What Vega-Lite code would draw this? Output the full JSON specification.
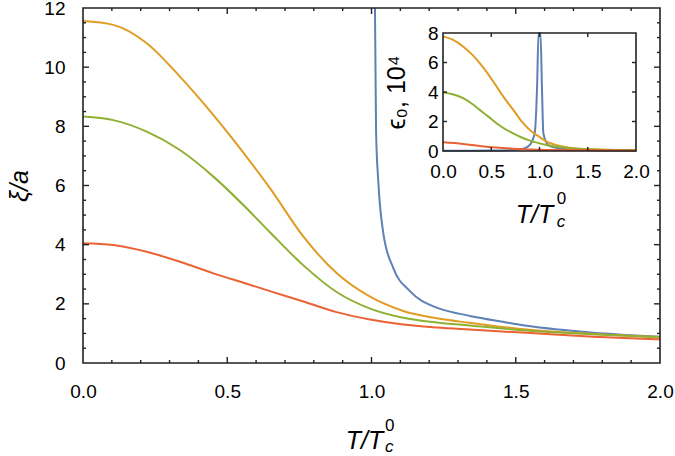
{
  "$schema": "https://vega.github.io/schema/vega-lite/v6.json",
  "width": 577,
  "height": 355,
  "autosize": {"type": "none"},
  "padding": {"left": 83, "top": 8, "right": 15, "bottom": 93},
  "background": "white",
  "config": {
    "view": {"stroke": null},
    "font": "Liberation Sans",
    "axis": {"labelFont": "Liberation Sans", "titleFont": "Liberation Sans", "labelColor": "black", "titleColor": "black", "grid": false, "domain": false, "ticks": false, "tickSize": 0, "labelFontSize": 19, "titleFontSize": 25, "titleFontWeight": "normal", "zindex": 1}
  },
  "datasets": {
    "main": [
      {"series": "curve 1", "T": 1.009, "xi": 14.0},
      {"series": "curve 1", "T": 1.012, "xi": 12.0},
      {"series": "curve 1", "T": 1.014, "xi": 9.8},
      {"series": "curve 1", "T": 1.016, "xi": 7.77},
      {"series": "curve 1", "T": 1.024, "xi": 6.07},
      {"series": "curve 1", "T": 1.041, "xi": 4.38},
      {"series": "curve 1", "T": 1.076, "xi": 3.2},
      {"series": "curve 1", "T": 1.134, "xi": 2.42},
      {"series": "curve 1", "T": 1.226, "xi": 1.87},
      {"series": "curve 1", "T": 1.307, "xi": 1.66},
      {"series": "curve 1", "T": 1.341, "xi": 1.59},
      {"series": "curve 1", "T": 1.45, "xi": 1.4},
      {"series": "curve 1", "T": 1.538, "xi": 1.26},
      {"series": "curve 1", "T": 1.65, "xi": 1.13},
      {"series": "curve 1", "T": 1.768, "xi": 1.02},
      {"series": "curve 1", "T": 1.88, "xi": 0.95},
      {"series": "curve 1", "T": 2.0, "xi": 0.89},
      {"series": "curve 2", "T": 0.0, "xi": 11.56},
      {"series": "curve 2", "T": 0.105, "xi": 11.43},
      {"series": "curve 2", "T": 0.221, "xi": 10.81},
      {"series": "curve 2", "T": 0.336, "xi": 9.68},
      {"series": "curve 2", "T": 0.452, "xi": 8.38},
      {"series": "curve 2", "T": 0.567, "xi": 6.97},
      {"series": "curve 2", "T": 0.648, "xi": 5.91},
      {"series": "curve 2", "T": 0.764, "xi": 4.27},
      {"series": "curve 2", "T": 0.879, "xi": 3.04},
      {"series": "curve 2", "T": 0.995, "xi": 2.24},
      {"series": "curve 2", "T": 1.11, "xi": 1.76},
      {"series": "curve 2", "T": 1.226, "xi": 1.51},
      {"series": "curve 2", "T": 1.34, "xi": 1.36},
      {"series": "curve 2", "T": 1.538, "xi": 1.13},
      {"series": "curve 2", "T": 1.768, "xi": 0.98},
      {"series": "curve 2", "T": 2.0, "xi": 0.88},
      {"series": "curve 3", "T": 0.0, "xi": 8.33},
      {"series": "curve 3", "T": 0.105, "xi": 8.21},
      {"series": "curve 3", "T": 0.221, "xi": 7.82},
      {"series": "curve 3", "T": 0.336, "xi": 7.2},
      {"series": "curve 3", "T": 0.452, "xi": 6.3},
      {"series": "curve 3", "T": 0.567, "xi": 5.23},
      {"series": "curve 3", "T": 0.648, "xi": 4.42},
      {"series": "curve 3", "T": 0.764, "xi": 3.3},
      {"series": "curve 3", "T": 0.879, "xi": 2.4},
      {"series": "curve 3", "T": 0.995, "xi": 1.84},
      {"series": "curve 3", "T": 1.11, "xi": 1.53},
      {"series": "curve 3", "T": 1.226, "xi": 1.37},
      {"series": "curve 3", "T": 1.34, "xi": 1.27},
      {"series": "curve 3", "T": 1.538, "xi": 1.1},
      {"series": "curve 3", "T": 1.768, "xi": 0.97},
      {"series": "curve 3", "T": 2.0, "xi": 0.87},
      {"series": "curve 4", "T": 0.0, "xi": 4.05},
      {"series": "curve 4", "T": 0.105, "xi": 3.99},
      {"series": "curve 4", "T": 0.221, "xi": 3.76},
      {"series": "curve 4", "T": 0.336, "xi": 3.42},
      {"series": "curve 4", "T": 0.452, "xi": 3.03},
      {"series": "curve 4", "T": 0.567, "xi": 2.68},
      {"series": "curve 4", "T": 0.648, "xi": 2.43},
      {"series": "curve 4", "T": 0.764, "xi": 2.08},
      {"series": "curve 4", "T": 0.879, "xi": 1.72},
      {"series": "curve 4", "T": 0.995, "xi": 1.47},
      {"series": "curve 4", "T": 1.11, "xi": 1.3},
      {"series": "curve 4", "T": 1.226, "xi": 1.2},
      {"series": "curve 4", "T": 1.34, "xi": 1.13},
      {"series": "curve 4", "T": 1.538, "xi": 1.02},
      {"series": "curve 4", "T": 1.768, "xi": 0.89},
      {"series": "curve 4", "T": 2.0, "xi": 0.8}
    ],
    "inset": [
      {"series": "curve 1", "T": 0.0, "eps": 0.02},
      {"series": "curve 1", "T": 0.5, "eps": 0.03},
      {"series": "curve 1", "T": 0.7, "eps": 0.06},
      {"series": "curve 1", "T": 0.8, "eps": 0.12},
      {"series": "curve 1", "T": 0.85, "eps": 0.2},
      {"series": "curve 1", "T": 0.9, "eps": 0.41},
      {"series": "curve 1", "T": 0.95, "eps": 1.2},
      {"series": "curve 1", "T": 0.975, "eps": 4.37},
      {"series": "curve 1", "T": 0.99, "eps": 9.0},
      {"series": "curve 1", "T": 1.0, "eps": 30.0},
      {"series": "curve 1", "T": 1.01, "eps": 9.0},
      {"series": "curve 1", "T": 1.025, "eps": 4.4},
      {"series": "curve 1", "T": 1.04, "eps": 1.2},
      {"series": "curve 1", "T": 1.09, "eps": 0.41},
      {"series": "curve 1", "T": 1.15, "eps": 0.25},
      {"series": "curve 1", "T": 1.25, "eps": 0.15},
      {"series": "curve 1", "T": 1.5, "eps": 0.07},
      {"series": "curve 1", "T": 2.0, "eps": 0.03},
      {"series": "curve 2", "T": 0.0, "eps": 7.77},
      {"series": "curve 2", "T": 0.1, "eps": 7.55},
      {"series": "curve 2", "T": 0.208, "eps": 7.09},
      {"series": "curve 2", "T": 0.3, "eps": 6.55},
      {"series": "curve 2", "T": 0.38, "eps": 5.96},
      {"series": "curve 2", "T": 0.47, "eps": 5.2},
      {"series": "curve 2", "T": 0.555, "eps": 4.37},
      {"series": "curve 2", "T": 0.64, "eps": 3.55},
      {"series": "curve 2", "T": 0.728, "eps": 2.79},
      {"series": "curve 2", "T": 0.81, "eps": 2.05},
      {"series": "curve 2", "T": 0.9, "eps": 1.43},
      {"series": "curve 2", "T": 1.0, "eps": 0.95},
      {"series": "curve 2", "T": 1.075, "eps": 0.63},
      {"series": "curve 2", "T": 1.25, "eps": 0.29},
      {"series": "curve 2", "T": 1.4, "eps": 0.16},
      {"series": "curve 2", "T": 1.6, "eps": 0.1},
      {"series": "curve 2", "T": 2.0, "eps": 0.05},
      {"series": "curve 3", "T": 0.0, "eps": 3.97},
      {"series": "curve 3", "T": 0.1, "eps": 3.85},
      {"series": "curve 3", "T": 0.208, "eps": 3.58},
      {"series": "curve 3", "T": 0.3, "eps": 3.2},
      {"series": "curve 3", "T": 0.38, "eps": 2.79},
      {"series": "curve 3", "T": 0.47, "eps": 2.33},
      {"series": "curve 3", "T": 0.555, "eps": 1.88},
      {"series": "curve 3", "T": 0.64, "eps": 1.5},
      {"series": "curve 3", "T": 0.728, "eps": 1.2},
      {"series": "curve 3", "T": 0.81, "eps": 0.93},
      {"series": "curve 3", "T": 0.9, "eps": 0.7},
      {"series": "curve 3", "T": 1.075, "eps": 0.41},
      {"series": "curve 3", "T": 1.25, "eps": 0.23},
      {"series": "curve 3", "T": 1.5, "eps": 0.12},
      {"series": "curve 3", "T": 2.0, "eps": 0.06},
      {"series": "curve 4", "T": 0.0, "eps": 0.59},
      {"series": "curve 4", "T": 0.208, "eps": 0.48},
      {"series": "curve 4", "T": 0.38, "eps": 0.34},
      {"series": "curve 4", "T": 0.555, "eps": 0.23},
      {"series": "curve 4", "T": 0.728, "eps": 0.16},
      {"series": "curve 4", "T": 0.9, "eps": 0.11},
      {"series": "curve 4", "T": 1.25, "eps": 0.06},
      {"series": "curve 4", "T": 2.0, "eps": 0.04}
    ],
    "frame": [{"T": 0, "v": 0, "o": 1}, {"T": 2, "v": 0, "o": 2}, {"T": 2, "v": 12, "o": 3}, {"T": 0, "v": 12, "o": 4}, {"T": 0, "v": 0, "o": 5}],
    "insetFrame": [{"T": 0, "v": 0, "o": 1}, {"T": 2, "v": 0, "o": 2}, {"T": 2, "v": 8, "o": 3}, {"T": 0, "v": 8, "o": 4}, {"T": 0, "v": 0, "o": 5}],
    "xMajor": [{"v": 0.5}, {"v": 1}, {"v": 1.5}],
    "xMinor": [{"v": 0.1}, {"v": 0.2}, {"v": 0.3}, {"v": 0.4}, {"v": 0.6}, {"v": 0.7}, {"v": 0.8}, {"v": 0.9}, {"v": 1.1}, {"v": 1.2}, {"v": 1.3}, {"v": 1.4}, {"v": 1.6}, {"v": 1.7}, {"v": 1.8}, {"v": 1.9}],
    "yMainMajor": [{"v": 2}, {"v": 4}, {"v": 6}, {"v": 8}, {"v": 10}],
    "yMainMinor": [{"v": 0.5}, {"v": 1}, {"v": 1.5}, {"v": 2.5}, {"v": 3}, {"v": 3.5}, {"v": 4.5}, {"v": 5}, {"v": 5.5}, {"v": 6.5}, {"v": 7}, {"v": 7.5}, {"v": 8.5}, {"v": 9}, {"v": 9.5}, {"v": 10.5}, {"v": 11}, {"v": 11.5}],
    "yInsetMajor": [{"v": 2}, {"v": 4}, {"v": 6}],
    "yInsetMinor": [{"v": 0.5}, {"v": 1}, {"v": 1.5}, {"v": 2.5}, {"v": 3}, {"v": 3.5}, {"v": 4.5}, {"v": 5}, {"v": 5.5}, {"v": 6.5}, {"v": 7}, {"v": 7.5}],
    "subsup": [{"label": "c"}],
    "sup": [{"label": "0"}]
  },
  "resolve": {"scale": {"x": "independent", "y": "independent"}, "axis": {"x": "independent", "y": "independent"}},
  "layer": [
    {
      "data": {"name": "main"},
      "mark": {"type": "line", "strokeWidth": 2, "clip": true, "interpolate": "monotone"},
      "encoding": {
        "x": {"field": "T", "type": "quantitative", "scale": {"domain": [0, 2], "nice": false, "zero": false},
          "axis": {"orient": "bottom", "values": [0, 0.5, 1, 1.5, 2], "format": ".1f", "labelPadding": 19, "title": "T/T", "titleFontStyle": "italic", "titleX": 281, "titleY": 85, "titleBaseline": "alphabetic", "labelFlush": false}},
        "y": {"field": "xi", "type": "quantitative", "scale": {"domain": [0, 12], "nice": false, "zero": false},
          "axis": {"orient": "left", "values": [0, 2, 4, 6, 8, 10, 12], "labelPadding": 18, "title": "ξ/a", "titleFontStyle": "italic", "titleX": -64, "titleY": 177.5, "titleBaseline": "middle", "labelFlush": false}},
        "color": {"field": "series", "type": "nominal", "scale": {"domain": ["curve 1", "curve 2", "curve 3", "curve 4"], "range": ["#5E81B5", "#E19C24", "#8FB032", "#EB6235"]}, "legend": null},
        "order": {"field": "T", "type": "quantitative"}
      }
    },
    {
      "data": {"name": "frame"},
      "mark": {"type": "line", "strokeWidth": 1.6, "strokeCap": "square", "opacity": 1},
      "encoding": {
        "x": {"field": "T", "type": "quantitative", "scale": {"domain": [0, 2], "nice": false, "zero": false}, "axis": null},
        "y": {"field": "v", "type": "quantitative", "scale": {"domain": [0, 12], "nice": false, "zero": false}, "axis": null},
        "order": {"field": "o", "type": "quantitative"},
        "stroke": {"value": "#222222"}
      }
    },
    {
      "data": {"name": "xMajor"},
      "mark": {"type": "point", "shape": "M0,0L0,-1", "size": 144, "filled": false, "opacity": 1, "strokeWidth": 1.4},
      "encoding": {
        "x": {"field": "v", "type": "quantitative", "scale": {"domain": [0, 2], "nice": false, "zero": false}, "axis": null},
        "y": {"datum": 0, "type": "quantitative", "scale": {"domain": [0, 12], "nice": false, "zero": false}, "axis": null},
        "stroke": {"value": "#222222"}
      }
    },
    {
      "data": {"name": "xMajor"},
      "mark": {"type": "point", "shape": "M0,0L0,1", "size": 144, "filled": false, "opacity": 1, "strokeWidth": 1.4},
      "encoding": {
        "x": {"field": "v", "type": "quantitative", "scale": {"domain": [0, 2], "nice": false, "zero": false}, "axis": null},
        "y": {"datum": 12, "type": "quantitative", "scale": {"domain": [0, 12], "nice": false, "zero": false}, "axis": null},
        "stroke": {"value": "#222222"}
      }
    },
    {
      "data": {"name": "xMinor"},
      "mark": {"type": "point", "shape": "M0,0L0,-1", "size": 36, "filled": false, "opacity": 1, "strokeWidth": 1.4},
      "encoding": {
        "x": {"field": "v", "type": "quantitative", "scale": {"domain": [0, 2], "nice": false, "zero": false}, "axis": null},
        "y": {"datum": 0, "type": "quantitative", "scale": {"domain": [0, 12], "nice": false, "zero": false}, "axis": null},
        "stroke": {"value": "#222222"}
      }
    },
    {
      "data": {"name": "xMinor"},
      "mark": {"type": "point", "shape": "M0,0L0,1", "size": 36, "filled": false, "opacity": 1, "strokeWidth": 1.4},
      "encoding": {
        "x": {"field": "v", "type": "quantitative", "scale": {"domain": [0, 2], "nice": false, "zero": false}, "axis": null},
        "y": {"datum": 12, "type": "quantitative", "scale": {"domain": [0, 12], "nice": false, "zero": false}, "axis": null},
        "stroke": {"value": "#222222"}
      }
    },
    {
      "data": {"name": "yMainMajor"},
      "mark": {"type": "point", "shape": "M0,0L1,0", "size": 144, "filled": false, "opacity": 1, "strokeWidth": 1.4},
      "encoding": {
        "y": {"field": "v", "type": "quantitative", "scale": {"domain": [0, 12], "nice": false, "zero": false}, "axis": null},
        "x": {"datum": 0, "type": "quantitative", "scale": {"domain": [0, 2], "nice": false, "zero": false}, "axis": null},
        "stroke": {"value": "#222222"}
      }
    },
    {
      "data": {"name": "yMainMajor"},
      "mark": {"type": "point", "shape": "M0,0L-1,0", "size": 144, "filled": false, "opacity": 1, "strokeWidth": 1.4},
      "encoding": {
        "y": {"field": "v", "type": "quantitative", "scale": {"domain": [0, 12], "nice": false, "zero": false}, "axis": null},
        "x": {"datum": 2, "type": "quantitative", "scale": {"domain": [0, 2], "nice": false, "zero": false}, "axis": null},
        "stroke": {"value": "#222222"}
      }
    },
    {
      "data": {"name": "yMainMinor"},
      "mark": {"type": "point", "shape": "M0,0L1,0", "size": 36, "filled": false, "opacity": 1, "strokeWidth": 1.4},
      "encoding": {
        "y": {"field": "v", "type": "quantitative", "scale": {"domain": [0, 12], "nice": false, "zero": false}, "axis": null},
        "x": {"datum": 0, "type": "quantitative", "scale": {"domain": [0, 2], "nice": false, "zero": false}, "axis": null},
        "stroke": {"value": "#222222"}
      }
    },
    {
      "data": {"name": "yMainMinor"},
      "mark": {"type": "point", "shape": "M0,0L-1,0", "size": 36, "filled": false, "opacity": 1, "strokeWidth": 1.4},
      "encoding": {
        "y": {"field": "v", "type": "quantitative", "scale": {"domain": [0, 12], "nice": false, "zero": false}, "axis": null},
        "x": {"datum": 2, "type": "quantitative", "scale": {"domain": [0, 2], "nice": false, "zero": false}, "axis": null},
        "stroke": {"value": "#222222"}
      }
    },
    {
      "data": {"name": "inset"},
      "mark": {"type": "line", "strokeWidth": 2, "interpolate": "monotone"},
      "encoding": {
        "x": {"field": "T", "type": "quantitative", "scale": {"domain": [0, 2], "range": [360, 553], "nice": false, "zero": false},
          "axis": {"orient": "bottom", "offset": -212, "values": [0, 0.5, 1, 1.5, 2], "format": ".1f", "labelPadding": 11, "title": "T/T", "titleFontStyle": "italic", "titleX": 451, "titleY": 71, "titleBaseline": "alphabetic", "labelFlush": false}},
        "y": {"field": "eps", "type": "quantitative", "scale": {"domain": [0, 8], "range": [143, 25], "nice": false, "zero": false, "clamp": true},
          "axis": {"orient": "left", "offset": -360, "values": [0, 2, 4, 6, 8], "labelPadding": 5, "title": "ϵ₀, 10⁴", "titleX": -47, "titleY": 84, "titleBaseline": "middle", "labelFlush": false}},
        "color": {"field": "series", "type": "nominal", "legend": null},
        "order": {"field": "T", "type": "quantitative"}
      }
    },
    {
      "data": {"name": "insetFrame"},
      "mark": {"type": "line", "strokeWidth": 1.6, "strokeCap": "square", "opacity": 1},
      "encoding": {
        "x": {"field": "T", "type": "quantitative", "scale": {"domain": [0, 2], "range": [360, 553], "nice": false, "zero": false}, "axis": null},
        "y": {"field": "v", "type": "quantitative", "scale": {"domain": [0, 8], "range": [143, 25], "nice": false, "zero": false}, "axis": null},
        "order": {"field": "o", "type": "quantitative"},
        "stroke": {"value": "#222222"}
      }
    },
    {
      "data": {"name": "xMajor"},
      "mark": {"type": "point", "shape": "M0,0L0,-1", "size": 64, "filled": false, "opacity": 1, "strokeWidth": 1.4},
      "encoding": {
        "x": {"field": "v", "type": "quantitative", "scale": {"domain": [0, 2], "range": [360, 553], "nice": false, "zero": false}, "axis": null},
        "y": {"datum": 0, "type": "quantitative", "scale": {"domain": [0, 8], "range": [143, 25], "nice": false, "zero": false}, "axis": null},
        "stroke": {"value": "#222222"}
      }
    },
    {
      "data": {"name": "xMajor"},
      "mark": {"type": "point", "shape": "M0,0L0,1", "size": 64, "filled": false, "opacity": 1, "strokeWidth": 1.4},
      "encoding": {
        "x": {"field": "v", "type": "quantitative", "scale": {"domain": [0, 2], "range": [360, 553], "nice": false, "zero": false}, "axis": null},
        "y": {"datum": 8, "type": "quantitative", "scale": {"domain": [0, 8], "range": [143, 25], "nice": false, "zero": false}, "axis": null},
        "stroke": {"value": "#222222"}
      }
    },
    {
      "data": {"name": "yInsetMajor"},
      "mark": {"type": "point", "shape": "M0,0L1,0", "size": 64, "filled": false, "opacity": 1, "strokeWidth": 1.4},
      "encoding": {
        "y": {"field": "v", "type": "quantitative", "scale": {"domain": [0, 8], "range": [143, 25], "nice": false, "zero": false}, "axis": null},
        "x": {"datum": 0, "type": "quantitative", "scale": {"domain": [0, 2], "range": [360, 553], "nice": false, "zero": false}, "axis": null},
        "stroke": {"value": "#222222"}
      }
    },
    {
      "data": {"name": "yInsetMajor"},
      "mark": {"type": "point", "shape": "M0,0L-1,0", "size": 64, "filled": false, "opacity": 1, "strokeWidth": 1.4},
      "encoding": {
        "y": {"field": "v", "type": "quantitative", "scale": {"domain": [0, 8], "range": [143, 25], "nice": false, "zero": false}, "axis": null},
        "x": {"datum": 2, "type": "quantitative", "scale": {"domain": [0, 2], "range": [360, 553], "nice": false, "zero": false}, "axis": null},
        "stroke": {"value": "#222222"}
      }
    },
    {
      "data": {"name": "subsup"},
      "mark": {"type": "text", "fontSize": 17, "fontStyle": "italic", "align": "left", "baseline": "alphabetic", "font": "Liberation Sans", "clip": false},
      "encoding": {
        "text": {"field": "label"},
        "x": {"datum": 1.047, "type": "quantitative", "scale": {"domain": [0, 2], "nice": false, "zero": false}, "axis": null},
        "y": {"datum": -3.01, "type": "quantitative", "scale": {"domain": [0, 12], "nice": false, "zero": false}, "axis": null}
      }
    },
    {
      "data": {"name": "sup"},
      "mark": {"type": "text", "fontSize": 17, "align": "left", "baseline": "alphabetic", "font": "Liberation Sans", "clip": false},
      "encoding": {
        "text": {"field": "label"},
        "x": {"datum": 1.047, "type": "quantitative", "scale": {"domain": [0, 2], "nice": false, "zero": false}, "axis": null},
        "y": {"datum": -2.3, "type": "quantitative", "scale": {"domain": [0, 12], "nice": false, "zero": false}, "axis": null}
      }
    },
    {
      "data": {"name": "subsup"},
      "mark": {"type": "text", "fontSize": 17, "fontStyle": "italic", "align": "left", "baseline": "alphabetic", "font": "Liberation Sans", "clip": false},
      "encoding": {
        "text": {"field": "label"},
        "x": {"datum": 1.18, "type": "quantitative", "scale": {"domain": [0, 2], "range": [360, 553], "nice": false, "zero": false}, "axis": null},
        "y": {"datum": -5.15, "type": "quantitative", "scale": {"domain": [0, 8], "range": [143, 25], "nice": false, "zero": false}, "axis": null}
      }
    },
    {
      "data": {"name": "sup"},
      "mark": {"type": "text", "fontSize": 17, "align": "left", "baseline": "alphabetic", "font": "Liberation Sans", "clip": false},
      "encoding": {
        "text": {"field": "label"},
        "x": {"datum": 1.18, "type": "quantitative", "scale": {"domain": [0, 2], "range": [360, 553], "nice": false, "zero": false}, "axis": null},
        "y": {"datum": -3.59, "type": "quantitative", "scale": {"domain": [0, 8], "range": [143, 25], "nice": false, "zero": false}, "axis": null}
      }
    }
  ]
}
